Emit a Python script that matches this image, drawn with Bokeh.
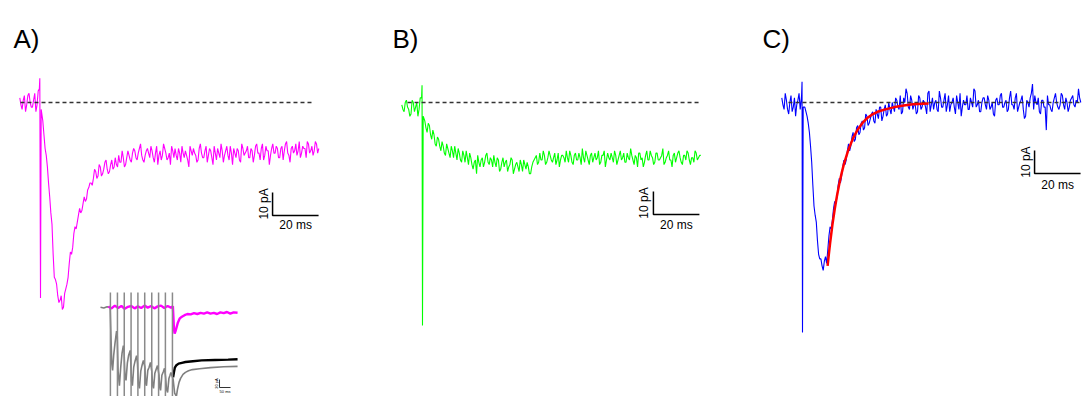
import numpy as np
from bokeh.plotting import figure
from bokeh.layouts import row
from bokeh.models import Range1d, Label
from bokeh.embed import file_html
from bokeh.resources import INLINE

# ---------------- data (time in ms, current in pA) ----------------
DT = 1.0          # sampling step of the hand-read traces (ms); *_mid are the samples half a step later
PRE_T = [-9, -8, -7, -6, -5, -4, -3, -2, -1]

# Panel A (magenta) -------------------------------------------------
A_pre = [2, -3, 3, -1, 4, -2, 1, -4, 5]
A_pre_mid = [-1, 1, -4, 3, 0, -2, 4, -1]
A_art_t = [-0.5, -0.3, 0.0, 0.3]
A_art_i = [6, 10.5, -85, -3]
A_post = [-8, -20, -28, -41, -53, -76, -79, -87, -84, -89,
          -81, -76, -65, -63, -54, -52, -46, -47, -41, -42,
          -37, -35, -33, -30, -32, -28, -31, -26, -29, -30,
          -25, -28, -27, -23, -26, -24, -27, -21, -25, -22,
          -21, -25, -20, -23, -26, -21, -22, -19, -24, -22,
          -27, -21, -23, -20, -25, -22, -19, -24, -23, -20,
          -26, -22, -21, -25, -19, -23, -22, -26, -20, -22,
          -24, -19, -23, -21, -27, -22, -20, -24, -21, -23,
          -19, -25, -22, -20, -24, -21, -26, -20, -22, -19,
          -24, -21, -23, -18, -22, -20, -25, -19, -21, -23,
          -18, -22, -20, -24, -19, -21, -17, -23, -20, -22,
          -18, -21, -24, -19, -20, -17, -22, -19, -21, -18, -20]
A_mid = [-14, -23, -35, -48, -66, -77, -84, -86, -90, -83,
         -79, -70, -66, -57, -55, -49, -48, -44, -43, -38,
         -35, -36, -29, -33, -27, -32, -29, -25, -31, -27,
         -29, -24, -28, -26, -21, -28, -24, -23, -26, -20,
         -24, -22, -18, -25, -23, -20, -24, -21, -26, -19,
         -23, -25, -18, -22, -24, -27, -21, -20, -25, -22,
         -19, -24, -23, -28, -21, -20, -23, -25, -18, -24,
         -21, -26, -20, -24, -19, -25, -22, -18, -26, -21,
         -23, -19, -27, -22, -20, -25, -18, -23, -21, -24,
         -20, -26, -19, -22, -25, -18, -23, -21, -27, -20,
         -22, -19, -24, -20, -25, -18, -22, -26, -19, -21,
         -23, -17, -22, -20, -24, -18, -21, -23, -17, -22]

# Panel B (green) ---------------------------------------------------
B_pre = [-1, -4, 1, -3, -5, 0, -2, -6, 2]
B_pre_mid = [-3, 0, -2, -6, 1, -4, 0, -3]
B_art_t = [-0.4, -0.2, 0.0, 0.3]
B_art_i = [2, 7.5, -97, -6]
B_post = [-8, -13, -10, -16, -14, -19, -16, -21, -19, -23,
          -20, -24, -21, -19, -25, -22, -26, -23, -21, -27,
          -24, -29, -25, -23, -28, -24, -26, -22, -27, -25,
          -23, -28, -25, -29, -24, -26, -30, -27, -25, -29,
          -26, -30, -27, -25, -29, -28, -31, -26, -24, -27,
          -22, -25, -23, -26, -21, -25, -24, -27, -22, -25,
          -23, -26, -24, -21, -26, -23, -25, -22, -27, -24,
          -21, -25, -23, -26, -22, -24, -27, -23, -21, -25,
          -24, -22, -26, -23, -25, -21, -24, -26, -22, -25,
          -23, -27, -24, -22, -25, -28, -23, -25, -21, -24,
          -26, -22, -25, -23, -27, -24, -21, -25, -23, -26,
          -22, -24, -27, -23, -21, -25, -24, -26, -22, -24, -23]
B_mid = [-11, -9, -14, -12, -18, -15, -19, -17, -22, -18,
         -22, -19, -24, -22, -20, -25, -21, -26, -24, -22,
         -27, -26, -31, -26, -25, -28, -23, -26, -24, -28,
         -26, -24, -30, -26, -28, -25, -28, -24, -31, -27,
         -28, -25, -30, -27, -26, -31, -28, -25, -23, -26,
         -25, -21, -27, -24, -23, -26, -22, -25, -28, -23,
         -24, -21, -26, -23, -27, -22, -25, -24, -20, -26,
         -23, -27, -22, -24, -25, -21, -26, -23, -28, -22,
         -25, -24, -21, -27, -23, -25, -22, -26, -24, -20,
         -25, -23, -28, -22, -24, -26, -21, -25, -23, -27,
         -22, -25, -24, -20, -26, -23, -25, -28, -22, -24,
         -21, -26, -23, -25, -22, -27, -24, -21, -25, -23]

# Panel C (blue) + exponential fit (red) ----------------------------
C_pre = [2, -3, 1, -5, 3, -2, -6, 1, -3]
C_pre_mid = [-1, 4, -3, 0, -4, 2, -1, 4]
C_art_t = [-0.4, -0.2, 0.0, 0.3]
C_art_i = [3, 9, -100, -2]
C_post = [-2, -6, -13, -26, -45, -52, -66, -68, -73, -67,
          -64, -54, -51, -43, -41, -33, -32, -25, -25, -18,
          -19, -13, -16, -10, -13, -8, -11, -6, -9, -5,
          -8, -3, -7, -2, -6, -1, -5, -3, 0, -4,
          1, -3, -5, 2, 6, -2, 3, -3, -1, -4,
          2, -2, 0, -5, 5, -1, -3, 1, -4, 2,
          -2, 4, -1, -4, 0, -2, 3, -3, -6, 1,
          -1, -3, 2, -2, 5, -1, -4, 0, 2, -3,
          1, -2, -5, 1, -1, 3, -2, 0, -4, 2,
          -1, -3, 4, -2, 1, -3, -6, 0, 2, 8,
          3, -1, -4, 1, -2, -12, -1, -3, 0, 4,
          -2, -1, 3, -3, 0, -2, 2, -1, 1, 6, 0]
C_mid = [-4, -9, -19, -36, -49, -60, -68, -71, -69, -70,
         -58, -55, -46, -44, -36, -35, -28, -27, -21, -21,
         -15, -17, -11, -14, -9, -12, -5, -10, -7, -4,
         -9, -5, -2, -8, -3, -6, 0, -5, -2, 2,
         -2, 3, -4, 0, 4, -3, 1, -1, -5, 3,
         -3, 1, -2, 4, -4, 2, 0, -3, 5, -2,
         1, -4, 3, -1, 2, -5, 0, 4, -2, -1,
         3, -3, 0, 6, -2, 1, -4, 2, -1, 3,
         -3, 0, -6, 2, -1, 4, -2, 1, -3, 5,
         -1, 2, -4, 0, 3, -7, 1, -2, 4, -3,
         0, 2, -5, 1, -2, 3, -1, -4, 2, 0,
         -3, 4, -1, 2, -4, 1, 3, -2, 0, 2]
FIT_T = [10.9, 12, 13, 14, 15, 16, 17, 18, 20, 22, 24, 26, 28, 30, 33, 36, 40, 44, 48, 54.8]
FIT_I = [-71, -61.1, -53.2, -46.4, -40.5, -35.3, -30.8, -26.8, -20.4, -15.5,
         -11.8, -9.0, -6.9, -5.4, -3.9, -3.0, -2.0, -1.3, -0.8, -0.4]

# Baseline (0 pA) extents
BASE_A = [-8.7, 118.3]
BASE_B = [-6.5, 120.4]
BASE_C = [-6.1, 120.9]

# Scale bars
SCALE_PA = 10
SCALE_MS = 20

# Inset of panel A (ms, pA) ------------------------------------------
STIM_T = [45, 77, 108, 139, 170, 201, 233, 264, 295, 327]
STIM_TOP = 37
STIM_BOTTOM = -240
INSET_GRAY_T = [0, 15, 30, 44, 47, 51, 55, 60, 66, 73, 76, 80, 86, 92, 98, 104, 107, 111, 116,
                122, 128, 135, 137, 141, 145, 151, 157, 164, 168, 172, 177, 183, 189, 195, 202,
                205, 209, 215, 221, 227, 233, 237, 241, 247, 253, 259, 266, 269, 273, 279, 285,
                291, 296, 300, 305, 311, 316, 320, 330, 337, 345, 350, 357, 364, 375, 386, 400,
                418, 450, 500, 560, 623]
INSET_GRAY_I = [0, -2, 1, 0, -60, -140, -158, -120, -90, -60, -70, -160, -196, -150, -115, -96,
                -110, -170, -183, -140, -120, -108, -130, -185, -196, -150, -135, -121, -140,
                -190, -203, -160, -145, -133, -150, -190, -196, -158, -150, -138, -160, -195,
                -203, -165, -155, -146, -170, -200, -208, -170, -162, -153, -175, -205, -213,
                -178, -170, -163, -180, -215, -223, -205, -188, -178, -168, -163, -159, -156,
                -154, -151, -149, -148]
INSET_BLACK_T = [330, 334, 338, 345, 355, 370, 386, 420, 460, 520, 580, 623]
INSET_BLACK_I = [-175, -162, -151, -145, -141, -139, -137, -135, -133, -132, -131, -130]
INSET_MAG_T = [36, 50, 65, 80, 95, 110, 125, 140, 155, 170, 185, 200, 215, 230, 245, 260, 275,
               290, 305, 320, 329, 331, 334, 337, 341, 346, 352, 360, 370, 382, 395, 410, 425,
               440, 455, 470, 485, 500, 515, 530, 545, 560, 575, 590, 605, 623]
INSET_MAG_I = [2, -3, 4, -2, 3, -4, 1, 3, -3, 2, -2, 4, -1, 3, -3, 2, 4, -2, 3, -1, 2,
               -20, -55, -66, -60, -50, -38, -28, -24, -20, -17, -18, -15, -17, -14, -16,
               -13, -16, -14, -17, -13, -15, -12, -16, -13, -14]
INSET_SCALE_PA = 20
INSET_SCALE_MS = 50

# ---------------- layout helpers ----------------
K = 2.3           # px per ms and per pA in the main panels
H = 396
Y_RANGE = (-(H - 102) / K, 102 / K)
FONT = "Liberation Sans"


def trace(pre, pre_mid, art_t, art_i, post, post_mid):
    pre_t = np.array(PRE_T, float)
    pre_mid_t = pre_t[:-1] + DT / 2
    post_t = (np.arange(len(post)) + 1) * DT
    post_mid_t = post_t[:-1] + DT / 2
    t = np.concatenate([pre_t, pre_mid_t, np.array(art_t, float), post_t, post_mid_t])
    i = np.concatenate([pre, pre_mid, art_i, post, post_mid]).astype(float)
    order = np.argsort(t, kind="stable")
    return t[order], i[order]


def make_fig(w, art_px):
    p = figure(width=w, height=H,
               x_range=Range1d(-art_px / K, (w - art_px) / K),
               y_range=Range1d(*Y_RANGE),
               output_backend="svg", toolbar_location=None,
               x_axis_location=None, y_axis_location=None, min_border=0)
    p.grid.visible = False
    p.outline_line_color = None
    p.background_fill_color = "white"
    p.border_fill_color = "white"
    return p


def scale_bar(p, bx, by, text_gap=3):
    p.line([bx, bx, bx + SCALE_MS], [by + SCALE_PA, by, by], line_color="black", line_width=1.5)
    p.add_layout(Label(x=bx, y=by + SCALE_PA / 2, text=f"{SCALE_PA} pA", angle=np.pi / 2,
                       text_align="center", text_baseline="bottom", x_offset=-2,
                       text_font=FONT, text_font_size="12px", text_color="black"))
    p.add_layout(Label(x=bx + SCALE_MS / 2, y=by, text=f"{SCALE_MS} ms",
                       text_align="center", text_baseline="top", y_offset=-text_gap,
                       text_font=FONT, text_font_size="12px", text_color="black"))


def panel_label(p, x, txt):
    p.add_layout(Label(x=x, y=H - 38, x_units="screen", y_units="screen", text=txt,
                       text_font=FONT, text_font_size="26px", text_baseline="alphabetic",
                       text_color="black"))


def baseline(p, ext):
    p.line(ext, [0, 0], line_color="#333333", line_width=1.4, line_dash="4 3")


# ---------------- Panel A ----------------
pA = make_fig(361, 40)
tA, iA = trace(A_pre, A_pre_mid, A_art_t, A_art_i, A_post, A_mid)
pA.line(tA, iA, line_color="#FF00FF", line_width=1.1)
baseline(pA, BASE_A)
scale_bar(pA, 100.9, -49.1)
panel_label(pA, 13, "A)")

# inset with its own scales
pA.extra_x_ranges = {"ix": Range1d(-100 / 0.22, (361 - 100) / 0.22)}
pA.extra_y_ranges = {"iy": Range1d(-(H - 306.7) / 0.4, 306.7 / 0.4)}
kw = dict(x_range_name="ix", y_range_name="iy")
pA.line(INSET_GRAY_T, INSET_GRAY_I, line_color="#7f7f7f", line_width=1.6, **kw)
pA.line(INSET_BLACK_T, INSET_BLACK_I, line_color="black", line_width=2.4, **kw)
pA.line(INSET_MAG_T, INSET_MAG_I, line_color="#FF00FF", line_width=2.4, **kw)
pA.segment(x0=STIM_T, y0=[STIM_TOP] * len(STIM_T), x1=STIM_T, y1=[STIM_BOTTOM] * len(STIM_T),
           line_color="#8a8a8a", line_width=1.5, **kw)
ibx, iby = 541, -200.75
pA.line([ibx, ibx, ibx + INSET_SCALE_MS], [iby + INSET_SCALE_PA, iby, iby],
        line_color="black", line_width=0.8, **kw)
pA.add_layout(Label(x=ibx, y=iby + INSET_SCALE_PA / 2, x_range_name="ix", y_range_name="iy",
                    text=f"{INSET_SCALE_PA} pA", angle=np.pi / 2, text_align="center",
                    text_baseline="bottom", x_offset=-1, text_font=FONT,
                    text_font_size="4px", text_color="black"))
pA.add_layout(Label(x=ibx + INSET_SCALE_MS / 2, y=iby, x_range_name="ix", y_range_name="iy",
                    text=f"{INSET_SCALE_MS} ms", text_align="center", text_baseline="top",
                    y_offset=-1, text_font=FONT, text_font_size="4px", text_color="black"))

# ---------------- Panel B ----------------
pB = make_fig(361, 61)
tB, iB = trace(B_pre, B_pre_mid, B_art_t, B_art_i, B_post, B_mid)
pB.line(tB, iB, line_color="#00FF00", line_width=1.1)
baseline(pB, BASE_B)
scale_bar(pB, 100.4, -48.7)
panel_label(pB, 31, "B)")

# ---------------- Panel C ----------------
pC = make_fig(362, 80)
tC, iC = trace(C_pre, C_pre_mid, C_art_t, C_art_i, C_post, C_mid)
pC.line(tC, iC, line_color="#0000FF", line_width=1.1)
baseline(pC, BASE_C)
pC.line(FIT_T, FIT_I, line_color="#FF0000", line_width=2.5)
scale_bar(pC, 100.9, -30.9, text_gap=4)
panel_label(pC, 40, "C)")

layout = row(pA, pB, pC)
open("out.html", "w").write(file_html(layout, INLINE))
